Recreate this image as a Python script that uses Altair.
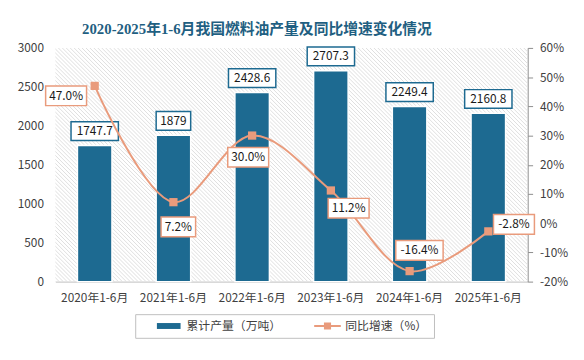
import altair as alt
import pandas as pd

periods = ["2020年1-6月", "2021年1-6月", "2022年1-6月", "2023年1-6月", "2024年1-6月", "2025年1-6月"]
output = [1747.7, 1879, 2428.6, 2707.3, 2249.4, 2160.8]
growth = [47.0, 7.2, 30.0, 11.2, -16.4, -2.8]
series_bar = "累计产量（万吨）"
series_line = "同比增速（%）"
title_text = "2020-2025年1-6月我国燃料油产量及同比增速变化情况"

# label placement (pixel offsets of label box centres from each line point)
line_label_dx = [-29, 5, -4, 18, 10, 26]
line_label_dy = [10, 25, 22, 18, -21, -7]

BLUE = "#1d6a91"
ORANGE = "#e99b7c"
FONT = "Noto Sans CJK SC"
W, H = 479, 237

df = pd.DataFrame({"period": periods, "output": output, "growth": growth})
df["bar_series"] = series_bar
df["line_series"] = series_line

color_scale = alt.Scale(domain=[series_bar, series_line], range=[BLUE, ORANGE])
shape_scale = alt.Scale(
    domain=[series_bar, series_line],
    range=[
        "M-2,-0.5H2V0.5H-2Z",
        "M-2.25,-0.17H2.25V0.17H-2.25Z M-0.6,-0.6H0.6V0.6H-0.6Z",
    ],
)

x_enc = alt.X(
    "period:N",
    sort=periods,
    scale=alt.Scale(paddingInner=0, paddingOuter=0),
    axis=alt.Axis(
        title=None, labelAngle=0, ticks=False, domainColor="#bfbfbf",
        labelFont=FONT, labelFontSize=12, labelColor="#404040", labelPadding=11,
    ),
)
x_enc_noaxis = alt.X("period:N", sort=periods, scale=alt.Scale(paddingInner=0, paddingOuter=0))

y_left_axis = alt.Axis(
    title=None, orient="left", values=list(range(0, 3001, 500)), format="d", domain=False,
    ticks=False, grid=False, labelFont=FONT, labelFontSize=12, labelColor="#404040",
    labelPadding=12,
)
y_left_scale = alt.Scale(domain=[0, 3000], nice=False)
y_right_axis = alt.Axis(
    title=None, orient="right", values=list(range(-20, 61, 10)), grid=False,
    labelExpr="datum.value + '%'", domainColor="#8c8c8c", tickColor="#8c8c8c",
    tickSize=5, labelPadding=7, labelFont=FONT, labelFontSize=12, labelColor="#404040",
)
y_right_scale = alt.Scale(domain=[-20, 60], nice=False)

base = alt.Chart(df)

# hatched plot background
hatch = (
    alt.Chart(alt.sequence(-H, W + 1, 4, as_="a"))
    .transform_calculate(a2=f"datum.a + {H}", yt=f"{H}", yb="0")
    .mark_rule(stroke="#dedede", strokeWidth=1, clip=True)
    .encode(
        x=alt.X("a:Q", scale=alt.Scale(domain=[0, W], nice=False, zero=False), axis=None),
        x2="a2:Q",
        y=alt.Y("yt:Q", scale=alt.Scale(domain=[0, H], nice=False), axis=None),
        y2="yb:Q",
    )
)

bars = base.mark_bar(size=35, stroke="white", strokeWidth=1.5, color=BLUE).encode(
    x=x_enc,
    y=alt.Y("output:Q", scale=y_left_scale, axis=y_left_axis),
)

bar_boxes = (
    base.transform_calculate(w="length(toString(datum.output)) * 6.5 + 9")
    .mark_bar(fill="white", stroke=BLUE, strokeWidth=1.5, yOffset=-24, y2Offset=-5)
    .encode(
        x=x_enc_noaxis,
        y=alt.Y("output:Q", scale=y_left_scale, axis=y_left_axis),
        y2="output:Q",
        size=alt.Size("w:Q", scale=None),
    )
)
bar_texts = (
    base.transform_calculate(lbl="toString(datum.output)")
    .mark_text(font=FONT, fontSize=12, color="#1a1a1a", dy=-14.5, baseline="middle")
    .encode(
        x=x_enc_noaxis,
        y=alt.Y("output:Q", scale=y_left_scale, axis=y_left_axis),
        text="lbl:N",
    )
)
bar_group = alt.layer(bars, bar_boxes, bar_texts)

line = base.mark_line(color=ORANGE, strokeWidth=2, interpolate="catmull-rom").encode(
    x=x_enc_noaxis,
    y=alt.Y("growth:Q", scale=y_right_scale, axis=y_right_axis),
)
points = base.mark_square(color=ORANGE, opacity=1, size=70).encode(
    x=x_enc_noaxis,
    y=alt.Y("growth:Q", scale=y_right_scale, axis=y_right_axis),
)
legend_def = alt.Legend(
    title=None, orient="none", legendX=81, legendY=270, direction="horizontal",
    strokeColor="#bfbfbf", fillColor="#ffffff", padding=6,
)
# legend carrier: no marks drawn, legend built from the explicit scale domains
legend_layer = base.transform_filter("false").mark_point(filled=True, opacity=1).encode(
    x=x_enc_noaxis,
    y=alt.Y("growth:Q", scale=y_right_scale, axis=y_right_axis),
    color=alt.Color("line_series:N", scale=color_scale, legend=legend_def),
    shape=alt.Shape("line_series:N", scale=shape_scale, legend=legend_def),
)

LBL = "replace(format(datum.growth, '.1f'), '\u2212', '-') + '%'"
line_layers = [line]
for i, p in enumerate(periods):
    sub = base.transform_filter(alt.datum.period == p).transform_calculate(
        lbl=LBL,
        w=f"length({LBL}) * 6.5 + 9",
    )
    box = sub.mark_bar(
        fill="white", stroke=ORANGE, strokeWidth=1.5,
        xOffset=line_label_dx[i], yOffset=line_label_dy[i] - 10, y2Offset=line_label_dy[i] + 10,
    ).encode(
        x=x_enc_noaxis,
        y=alt.Y("growth:Q", scale=y_right_scale, axis=y_right_axis),
        y2="growth:Q",
        size=alt.Size("w:Q", scale=None),
    )
    txt = sub.mark_text(
        font=FONT, fontSize=12, color="#1a1a1a", baseline="middle",
        dx=line_label_dx[i], dy=line_label_dy[i],
    ).encode(
        x=x_enc_noaxis,
        y=alt.Y("growth:Q", scale=y_right_scale, axis=y_right_axis),
        text="lbl:N",
    )
    line_layers += [box, txt]
line_layers += [points, legend_layer]
line_group = alt.layer(*line_layers)

main = alt.layer(bar_group, line_group).resolve_scale(y="independent")

chart = (
    alt.layer(hatch, main)
    .resolve_scale(x="independent", y="independent")
    .properties(
        width=W,
        height=H,
        autosize=alt.AutoSizeParams(type="none"),
        padding={"left": 48, "top": 38, "right": 49, "bottom": 77},
        title=alt.Title(
            title_text, font="Liberation Serif, Noto Sans CJK SC", fontSize=15,
            fontWeight="bold", color="#1f5f82", anchor="middle", dx=-35, offset=5,
        ),
    )
    .configure_view(stroke=None)
    .configure_legend(
        orient="none", legendX=81, legendY=270, direction="horizontal",
        strokeColor="#bfbfbf", strokeWidth=1, padding=6, symbolSize=144, symbolOffset=22,
        labelOffset=12, columnPadding=18, labelFont=FONT, labelFontSize=12,
        labelColor="#404040", symbolStrokeWidth=0,
    )
)

chart.save("out.html", embed_options={"renderer": "svg", "actions": False})
